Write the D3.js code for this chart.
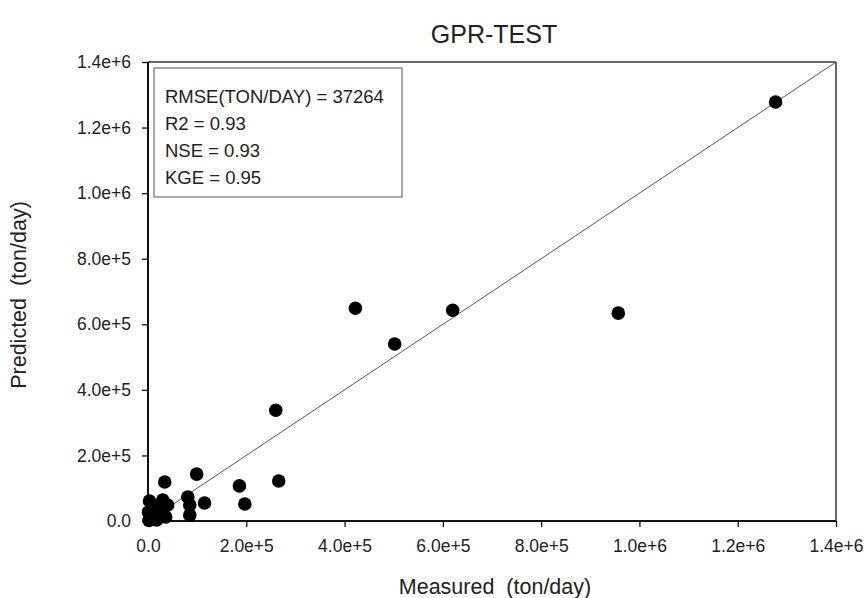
<!DOCTYPE html>
<html>
<head>
<meta charset="utf-8">
<script src="https://cdn.jsdelivr.net/npm/d3@7"></script>
<style>
  html, body { margin: 0; padding: 0; background: #fff; }
  svg { display: block; font-family: "Liberation Sans", Arial, sans-serif; }
  text { white-space: pre; }
</style>
</head>
<body>
<svg id="chart" width="867" height="598"></svg>
<script>
// Measured vs predicted sediment load (ton/day), GPR model, test set
const measured = [
  1277000, 422000, 620000, 502000, 957000, 260000, 266000, 186000, 197000,
  99000, 34000, 81000, 85000, 115000, 85000,
  3000, 30000, 1000, 20000, 2000, 17500, 36000, 40000, 9000, 8000, 24000
];
const predicted = [
  1278000, 649000, 643000, 540000, 634000, 338000, 122000, 107000, 52000,
  143000, 119000, 73000, 49000, 55000, 18000,
  61000, 64000, 27000, 30000, 2000, 3000, 12000, 49000, 12000, 48000, 20000
];
const xTicks = [0, 2e5, 4e5, 6e5, 8e5, 1e6, 1.2e6, 1.4e6];
const yTicks = [0, 2e5, 4e5, 6e5, 8e5, 1e6, 1.2e6, 1.4e6];
const xTickLabels = ["0.0", "2.0e+5", "4.0e+5", "6.0e+5", "8.0e+5", "1.0e+6", "1.2e+6", "1.4e+6"];
const yTickLabels = ["0.0", "2.0e+5", "4.0e+5", "6.0e+5", "8.0e+5", "1.0e+6", "1.2e+6", "1.4e+6"];
const statLines = ["RMSE(TON/DAY) = 37264", "R2 = 0.93", "NSE = 0.93", "KGE = 0.95"];
const title = "GPR-TEST";
const xTitle = "Measured  (ton/day)";
const yTitle = "Predicted  (ton/day)";

const svg = d3.select("#chart");
const plotL = 148, plotR = 836, plotT = 62, plotB = 521;

const x = d3.scaleLinear().domain([0, 1.4e6]).range([plotL, plotR]);
const y = d3.scaleLinear().domain([0, 1.4e6]).range([plotB, plotT]);

// frame: top and right edges
svg.append("line").attr("x1", plotL).attr("x2", plotR).attr("y1", plotT).attr("y2", plotT)
  .attr("stroke", "#333").attr("stroke-width", 1.5);
svg.append("line").attr("x1", plotR).attr("x2", plotR).attr("y1", plotT).attr("y2", plotB)
  .attr("stroke", "#333").attr("stroke-width", 1.5);

// 1:1 line
svg.append("line")
  .attr("x1", x(0)).attr("y1", y(0)).attr("x2", x(1.4e6)).attr("y2", y(1.4e6))
  .attr("stroke", "#555").attr("stroke-width", 1);

// axes
const xAxis = d3.axisBottom(x).tickValues(xTicks)
  .tickFormat((d, i) => xTickLabels[i]).tickSize(6).tickPadding(13);
const yAxis = d3.axisLeft(y).tickValues(yTicks)
  .tickFormat((d, i) => yTickLabels[i]).tickSize(6).tickPadding(11);

const gx = svg.append("g").attr("transform", `translate(0,${plotB})`).call(xAxis);
const gy = svg.append("g").attr("transform", `translate(${plotL},0)`).call(yAxis);
[gx, gy].forEach(g => {
  g.select(".domain").attr("stroke", "#111").attr("stroke-width", 2);
  g.selectAll(".tick line").attr("stroke", "#111").attr("stroke-width", 1.3);
  g.selectAll(".tick text").attr("fill", "#222")
    .style("font-family", "'Liberation Sans', Arial, sans-serif").style("font-size", "17.5px");
});
gy.select(".domain").attr("d", `M0,${plotB}V${plotT}`);
gx.select(".domain").attr("d", `M${plotL},0H${plotR}`);

// points
svg.append("g").selectAll("circle")
  .data(measured.map((m, i) => [m, predicted[i]]))
  .join("circle")
  .attr("cx", d => x(d[0])).attr("cy", d => y(d[1]))
  .attr("r", 6.8).attr("fill", "#000");

// statistics box
const box = svg.append("g");
box.append("rect").attr("x", 154).attr("y", 68).attr("width", 248).attr("height", 129)
  .attr("fill", "#fff").attr("stroke", "#555").attr("stroke-width", 1);
box.selectAll("text").data(statLines).join("text")
  .attr("x", 165).attr("y", (d, i) => 103 + i * 27)
  .attr("fill", "#222").style("font-size", "18.5px")
  .text(d => d);

// titles
svg.append("text").attr("x", 494).attr("y", 43).attr("text-anchor", "middle")
  .attr("fill", "#222").style("font-size", "25px").text(title);
svg.append("text").attr("x", 495).attr("y", 594).attr("text-anchor", "middle")
  .attr("fill", "#222").style("font-size", "21.5px").text(xTitle);
svg.append("text").attr("transform", "translate(26,295) rotate(-90)")
  .attr("text-anchor", "middle").attr("fill", "#222").style("font-size", "21.5px").text(yTitle);
</script>
</body>
</html>
